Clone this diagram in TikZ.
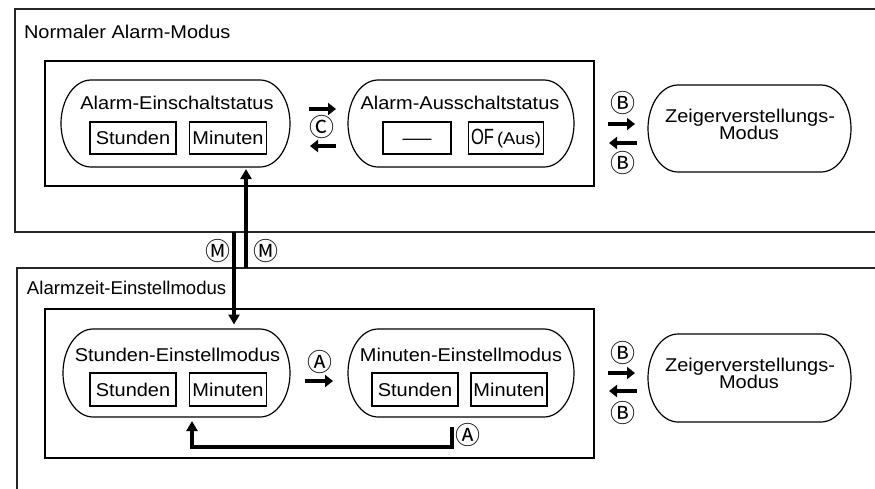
\documentclass[tikz,border=0pt]{standalone}
\usepackage{fontspec}
\usepackage{graphicx}
\setmainfont{Liberation Sans}[FakeStretch=1.08]
\newfontfamily\circfont{Noto Sans CJK JP}
\usetikzlibrary{arrows.meta,calc}

\newcommand\stadiumoutline[1]{%
  \draw[line width=1.2pt]
    ($(#1.north west)+(30,0)$) -- ($(#1.north east)+(-30,0)$)
    .. controls +(16.57,0) and +(0,-24) .. (#1.east)
    .. controls +(0,24) and +(16.57,0) .. ($(#1.south east)+(-30,0)$)
    -- ($(#1.south west)+(30,0)$)
    .. controls +(-16.57,0) and +(0,24) .. (#1.west)
    .. controls +(0,-24) and +(-16.57,0) .. ($(#1.north west)+(30,0)$);}

\begin{document}
\begin{tikzpicture}[x=1pt,y=-1pt,
  every node/.style={inner sep=0pt,outer sep=0pt},
  txt/.style={font=\fontsize{18.5}{17}\selectfont},
  circ/.style={font=\circfont\fontsize{25}{25}\selectfont},
  frame/.style={rectangle,draw=black!85,line width=1.3pt},
  innerbox/.style={rectangle,draw=black,line width=1.5pt},
  stadbox/.style={rectangle,draw=none,minimum height=87pt},
  valbox/.style={rectangle,draw=black,line width=1.2pt,minimum height=32pt,
     text height=13.2pt,text depth=0pt,font=\fontsize{18.5}{17}\selectfont},
  arr/.style={line width=4pt,-{Triangle[length=8pt,width=12pt]}},
  longarr/.style={line width=3.2pt,-{Triangle[length=10pt,width=11pt]}},
]
\useasboundingbox (0,0) rectangle (875,488);
\clip (0,0) rectangle (875,488);
\fill[white] (0,0) rectangle (875,488);

% outer frames
\node[frame,minimum width=880pt,minimum height=223pt,anchor=north west] (F1) at (15,9) {};
\node[frame,minimum width=880pt,minimum height=240pt,anchor=north west] (F2) at (17,268) {};
\node[txt,anchor=base west] (F1t) at (24,38) {Normaler Alarm-Modus};
\node[txt,anchor=base west] (F2t) at (27,294) {\scalebox{0.93}[1]{Alarmzeit-Einstellmodus}};

% inner frames
\node[innerbox,minimum width=549pt,minimum height=125pt,anchor=north west] (I1) at (45,61) {};
\node[innerbox,minimum width=549pt,minimum height=149pt,anchor=north west] (I2) at (45,309) {};

% stadiums
\node[stadbox,minimum width=229pt] (s1) at (175.5,123.5) {};
\node[stadbox,minimum width=226pt] (s2) at (461,123.5) {};
\node[stadbox,minimum width=227pt,minimum height=88pt] (s3) at (176.5,373) {};
\node[stadbox,minimum width=226pt,minimum height=88pt] (s4) at (461,373) {};
\node[stadbox,minimum width=203pt] (z1) at (749.5,128.5) {};
\node[stadbox,minimum width=203pt,minimum height=88pt] (z2) at (749.5,378) {};
\stadiumoutline{s1}
\stadiumoutline{s2}
\stadiumoutline{s3}
\stadiumoutline{s4}
\stadiumoutline{z1}
\stadiumoutline{z2}

% stadium titles
\node[txt,anchor=base] (s1t) at (177,109) {Alarm-Einschaltstatus};
\node[txt,anchor=base] (s2t) at (460,109) {Alarm-Ausschaltstatus};
\node[txt,anchor=base] (s3t) at (177.5,361) {Stunden-Einstellmodus};
\node[txt,anchor=base] (s4t) at (461,361) {Minuten-Einstellmodus};
\node[txt,anchor=base] (z1a) at (750,122) {Zeigerverstellungs-};
\node[txt,anchor=base] (z1b) at (749,139) {Modus};
\node[txt,anchor=base] (z2a) at (750,371.5) {Zeigerverstellungs-};
\node[txt,anchor=base] (z2b) at (749,388.5) {Modus};

% value boxes
\node[valbox,minimum width=86pt] (b11) at (133,138) {Stunden};
\node[valbox,minimum width=77pt] (b12) at (228,138) {Minuten};
\node[valbox,minimum width=68pt] (b21) at (417,138) {\scalebox{1.45}[1]{—}};
\node[valbox,minimum width=75pt] (b22) at (506,138) {\scalebox{0.83}[1.19]{OF}\,{\fontsize{17}{17}\selectfont(Aus)}};
\node[valbox,minimum width=86pt,minimum height=33pt] (b31) at (133,389.5) {Stunden};
\node[valbox,minimum width=77pt,minimum height=33pt] (b32) at (228,389.5) {Minuten};
\node[valbox,minimum width=86pt,minimum height=33pt] (b41) at (415,389.5) {Stunden};
\node[valbox,minimum width=76pt,minimum height=33pt] (b42) at (509,389.5) {Minuten};

% button labels
\node[circ] (lc) at (322,127) {Ⓒ};
\node[circ] (lb1) at (623,103) {Ⓑ};
\node[circ] (lb2) at (623,163) {Ⓑ};
\node[circ] (lb3) at (623,353) {Ⓑ};
\node[circ] (lb4) at (623,413) {Ⓑ};
\node[circ] (la1) at (320,362) {Ⓐ};
\node[circ] (la2) at (468,435) {Ⓐ};
\node[circ] (lm1) at (218,251) {Ⓜ};
\node[circ] (lm2) at (266,251) {Ⓜ};

% short arrows
\coordinate (c1a) at (309,109);  \coordinate (c1b) at (336,109);
\coordinate (c2a) at (336,146);  \coordinate (c2b) at (310,146);
\coordinate (b1a) at (608,124);  \coordinate (b1b) at (635,124);
\coordinate (b2a) at (637,143);  \coordinate (b2b) at (609,143);
\coordinate (b3a) at (608,373);  \coordinate (b3b) at (635,373);
\coordinate (b4a) at (637,391);  \coordinate (b4b) at (609,391);
\coordinate (a1a) at (305,381);  \coordinate (a1b) at (333,381);
\draw[arr] (c1a) -- (c1b);
\draw[arr] (c2a) -- (c2b);
\draw[arr] (b1a) -- (b1b);
\draw[arr] (b2a) -- (b2b);
\draw[arr] (b3a) -- (b3b);
\draw[arr] (b4a) -- (b4b);
\draw[arr] (a1a) -- (a1b);

% M connectors
\coordinate (md) at (234,0);
\coordinate (mu) at (246,0);
\draw[longarr,shorten >=4.5pt] (F1.south -| md) -- (s3.north -| md);
\draw[longarr,shorten >=2pt] (F2.north -| mu) -- (s1.south -| mu);

% return A connector
\coordinate (ra) at (452,427);
\coordinate (rb) at (192,447);
\draw[longarr,shorten >=4pt] (ra) |- (rb) -- (s3.south -| rb);
\end{tikzpicture}
\end{document}
